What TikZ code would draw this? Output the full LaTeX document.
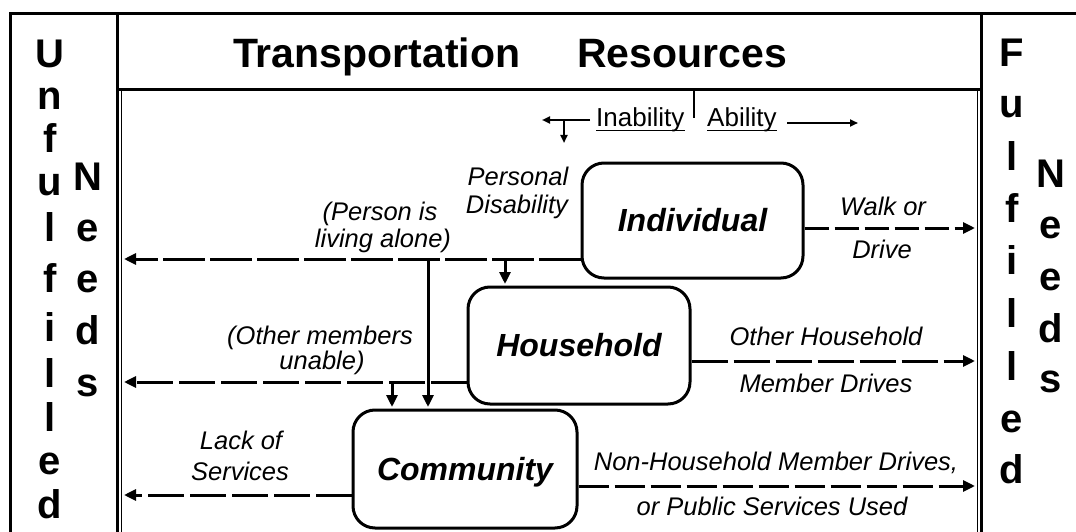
\documentclass[tikz,border=0pt]{standalone}
\usepackage{fontspec}
\setmainfont{Liberation Sans}
\usetikzlibrary{arrows.meta}
\begin{document}
\begin{tikzpicture}[x=1pt,y=-1pt,
  frame/.style={line width=3pt},
  inframe/.style={line width=1.4pt},
  res/.style={draw, line width=3pt, rounded corners=22pt, inner sep=0pt,
    text height=22pt, text depth=0pt,
    font=\fontsize{32}{32}\selectfont\bfseries\itshape},
  lbl/.style={font=\fontsize{25.5}{29}\selectfont\itshape, inner sep=0pt, anchor=base},
  col/.style={font=\fontsize{40}{40}\selectfont\bfseries, inner sep=0pt, anchor=base},
  flow/.style={line width=3pt, -{Triangle[length=12pt,width=11pt]}},
  dsh/.style={dash pattern=on 36pt off 6pt},
  key/.style={line width=2pt, -{Triangle[length=8pt,width=7pt]}},
  keytext/.style={font=\fontsize{26}{26}\selectfont, inner sep=0pt, anchor=base west},
]
\useasboundingbox (0,0) rectangle (1076,532);

% frame and title band
\draw[frame] (10,532) -- (10,14) -- (1076,14);
\draw[frame] (117,14) -- (117,532);
\draw[frame] (981,14) -- (981,532);
\draw[frame] (117,90) -- (981,90);
\draw[inframe] (121.5,91.5) -- (121.5,532);
\draw[inframe] (977.5,91.5) -- (977.5,532);

\node[font=\fontsize{41}{41}\selectfont\bfseries, inner sep=0pt, anchor=base west]
  (t1) at (233,68) {Transportation};
\node[font=\fontsize{41}{41}\selectfont\bfseries, inner sep=0pt, anchor=base west]
  (t2) at (577,68) {Resources};

% side columns
\foreach \ch/\yy [count=\i] in {U/68,n/110,f/153,u/195,l/241,f/292,i/341,l/387,l/431,e/474,d/518}
  \node[col] (ul\i) at (50,\yy) {\ch};
\foreach \ch/\yy [count=\i] in {N/190,e/241,e/292,d/344,s/396}
  \node[col] (un\i) at (88,\yy) {\ch};
\foreach \ch/\yy [count=\i] in {F/67,u/118,l/170,f/222,i/274,l/327,l/380,e/432,d/483}
  \node[col] (fl\i) at (1012,\yy) {\ch};
\foreach \ch/\yy [count=\i] in {N/187,e/238,e/290,d/342,s/392}
  \node[col] (fn\i) at (1051,\yy) {\ch};

% key
\node[keytext] (inab) at (596,127) {Inability};
\node[keytext] (abil) at (707,127) {Ability};
\draw[line width=1.6pt] ([yshift=-3.5pt]inab.base west) -- ([yshift=-3.5pt]inab.base east);
\draw[line width=1.6pt] ([yshift=-3.5pt]abil.base west) -- ([yshift=-3.5pt]abil.base east);
\coordinate (tickTop) at (694,91);
\coordinate (tickBot) at (694,118);
\draw[line width=2pt] (tickTop) -- (tickBot);
\coordinate (kS) at (590,120);
\coordinate (kL) at (542,120);
\coordinate (kT) at (564,120);
\coordinate (kD) at (564,143);
\coordinate (kA) at (787,123);
\coordinate (kR) at (858,123);
\draw[key] (kS) -- (kL);
\draw[key] (kT) -- (kD);
\draw[key] (kA) -- (kR);

% resource levels
\node[res, minimum width=221pt, minimum height=115pt] (ind) at (692.5,220.5) {Individual};
\node[res, minimum width=222pt, minimum height=117pt] (hh) at (579,345.5) {Household};
\node[res, minimum width=224pt, minimum height=118pt] (com) at (465,469) {Community};

% free ends at the need columns
\coordinate (u1) at (124,259);
\coordinate (u2) at (124,382);
\coordinate (u3) at (124,495);
\coordinate (f1) at (975,228);
\coordinate (f2) at (975,361);
\coordinate (f3) at (975,486);

% inability paths
\coordinate (j1) at (505,259);
\coordinate (j2) at (428,259);
\coordinate (j3) at (392,382);
\draw[flow, dash pattern=on 42pt off 5pt] ([yshift=-38.5pt]ind.west) -- (u1);
\draw[flow,dsh] ([yshift=-36.5pt]hh.west) -- (u2);
\draw[flow,dsh] ([yshift=-26pt]com.west) -- (u3);
\draw[flow, shorten >=1.5pt] (j1) -- (j1 |- hh.north);
\draw[flow, shorten >=1.5pt] (j2) -- (j2 |- com.north);
\draw[flow, shorten >=1.5pt] (j3) -- (j3 |- com.north);

% ability paths
\draw[flow, dash pattern=on 24pt off 6pt] ([yshift=-7.5pt]ind.east) -- (f1);
\draw[flow,dsh] ([yshift=-15.5pt]hh.east) -- (f2);
\draw[flow, dash pattern=on 30pt off 6pt] ([yshift=-17pt]com.east) -- (f3);

% labels
\node[lbl] (pd1) at (518,185) {Personal};
\node[lbl] (pd2) at (517,213) {Disability};
\node[lbl] (pa1) at (380,220) {(Person is};
\node[lbl] (pa2) at (383,247) {living alone)};
\node[lbl] (om1) at (320,344) {(Other members};
\node[lbl] (om2) at (322,369) {unable)};
\node[lbl] (ls1) at (241,449) {Lack of};
\node[lbl] (ls2) at (240,480) {Services};
\node[lbl] (wd1) at (883,215) {Walk or};
\node[lbl] (wd2) at (882,258) {Drive};
\node[lbl] (oh1) at (826,345) {Other Household};
\node[lbl] (oh2) at (826,392) {Member Drives};
\node[lbl] (nh1) at (776,470) {Non-Household Member Drives,};
\node[lbl] (nh2) at (772,515) {or Public Services Used};
\end{tikzpicture}
\end{document}
